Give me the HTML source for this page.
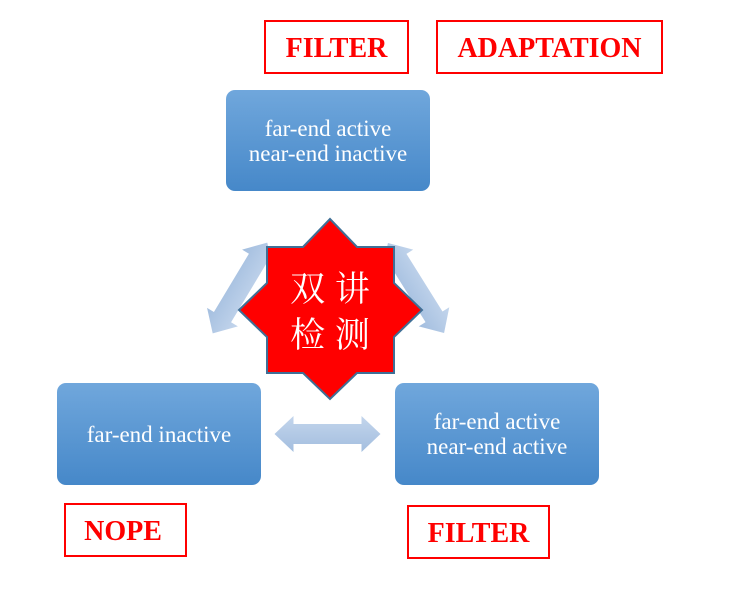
<!DOCTYPE html>
<html><head><meta charset="utf-8"><style>
html,body{margin:0;padding:0;background:#fff;}
svg{display:block}
</style></head><body>
<svg width="742" height="604" viewBox="0 0 742 604" xmlns="http://www.w3.org/2000/svg">
<defs>
<linearGradient id="bx" x1="0" y1="0" x2="0" y2="1">
<stop offset="0" stop-color="#70a7dc"/><stop offset="1" stop-color="#4688c9"/>
</linearGradient>
<linearGradient id="ar" x1="0" y1="0" x2="0" y2="1">
<stop offset="0" stop-color="#c3d5ec"/><stop offset="1" stop-color="#a3bedf"/>
</linearGradient>
<g id="dar">
<polygon points="-53,0 -34,-18 -34,-10 34,-10 34,-18 53,0 34,18 34,10 -34,10 -34,18" fill="url(#ar)"/>
</g>
</defs>
<g font-family="Liberation Serif, serif" font-weight="bold" font-size="28" fill="#ff0000" text-anchor="middle">
<rect x="265" y="21" width="143" height="52" fill="#fff" stroke="#ff0000" stroke-width="2"/>
<text x="336.5" y="57">FILTER</text>
<rect x="437" y="21" width="225" height="52" fill="#fff" stroke="#ff0000" stroke-width="2"/>
<text x="549.5" y="57">ADAPTATION</text>
<rect x="65" y="504" width="121" height="52" fill="#fff" stroke="#ff0000" stroke-width="2"/>
<text x="123" y="540">NOPE</text>
<rect x="408" y="506" width="141" height="52" fill="#fff" stroke="#ff0000" stroke-width="2"/>
<text x="478.5" y="542">FILTER</text>
</g>
<rect x="226" y="90" width="204" height="101" rx="9" fill="url(#bx)"/>
<rect x="57" y="383" width="204" height="102" rx="9" fill="url(#bx)"/>
<rect x="395" y="383" width="204" height="102" rx="9" fill="url(#bx)"/>
<g font-family="Liberation Serif, serif" font-size="23" fill="#fff" text-anchor="middle">
<text x="328" y="136">far-end active</text>
<text x="328" y="161">near-end inactive</text>
<text x="159" y="442">far-end inactive</text>
<text x="497" y="429">far-end active</text>
<text x="497" y="454">near-end active</text>
</g>
<use href="#dar" transform="translate(327.5,434)"/>
<use href="#dar" transform="translate(240,288) rotate(121) scale(1,1)"/>
<use href="#dar" transform="translate(416,288) rotate(58) scale(1,1)"/>
<polygon points="330,219 357,247 394,247 394,283 422,310 394,337 394,373 357,373 330,399 303,373 267,373 267,337 239,310 267,283 267,247 303,247" fill="#ff0000" stroke="#3f6f96" stroke-width="2" stroke-linejoin="miter"/>
<g font-family="Liberation Sans, 'Noto Serif CJK SC', serif" font-size="35" fill="#fff" text-anchor="middle">
<text x="330" y="301">双 讲</text>
<text x="330" y="347">检 测</text>
</g>
</svg>
</body></html>
